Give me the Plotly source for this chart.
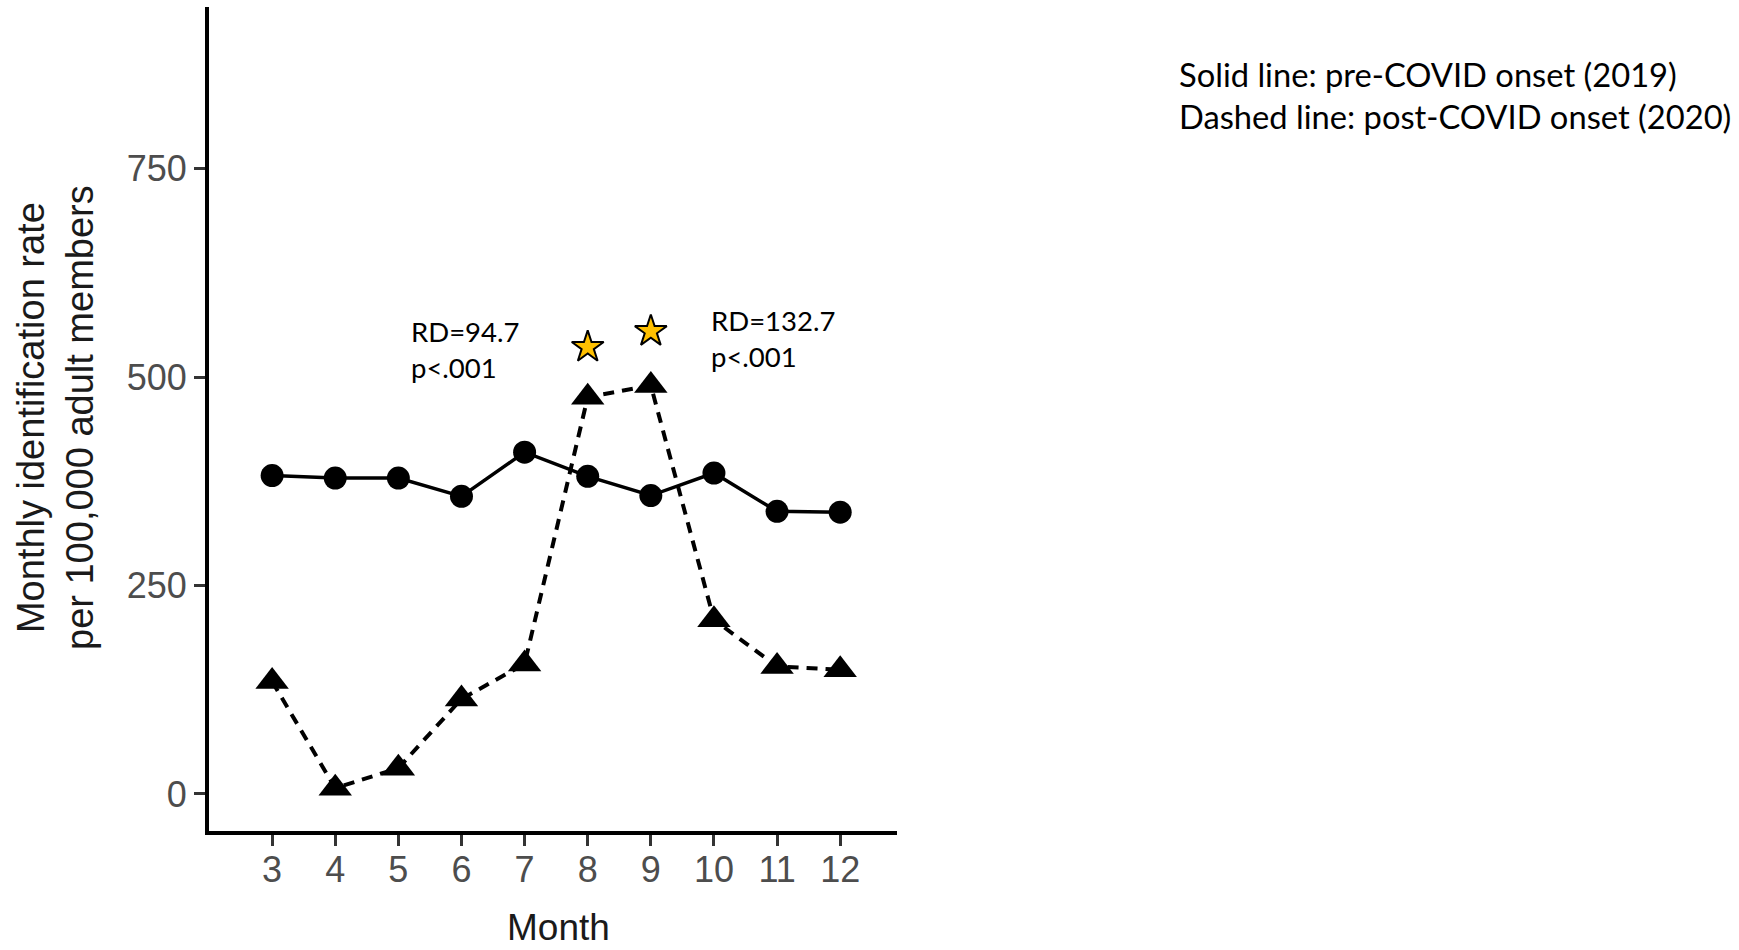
import plotly.graph_objects as go

months = [3, 4, 5, 6, 7, 8, 9, 10, 11, 12]
rate_2019 = [382, 379, 379, 357, 410, 381, 358, 385, 339, 338]
rate_2020 = [135, 7, 31, 114, 156, 476, 490, 209, 153, 149]
star_months = [8, 9]
star_values = [536, 555]
y_ticks = [0, 250, 500, 750]
x_ticks = months
rd_labels = ["RD=94.7<br>p<.001", "RD=132.7<br>p<.001"]
rd_pos_x = [5.17, 9.92]
rd_pos_y = [533, 546]
legend_lines = ["Solid line: pre-COVID onset (2019)", "Dashed line: post-COVID onset (2020)"]

W, H = 1739, 950
L, R, T, B = 209, 1739 - 897, 7, 950 - 831
pw, ph = W - L - R, H - T - B

fig = go.Figure()
fig.add_trace(go.Scatter(x=months, y=rate_2019, mode="lines",
                         line=dict(color="black", width=3.5), hoverinfo="skip"))
fig.add_trace(go.Scatter(x=months, y=rate_2020, mode="lines",
                         line=dict(color="black", width=4, dash="11px,8px"), hoverinfo="skip"))
fig.add_trace(go.Scatter(x=months, y=rate_2019, mode="markers",
                         marker=dict(symbol="circle", size=23, color="black")))
fig.add_trace(go.Scatter(x=months, y=rate_2020, mode="markers",
                         marker=dict(symbol="triangle-up", size=29, color="black")))
fig.add_trace(go.Scatter(x=star_months, y=star_values, mode="markers",
                         marker=dict(symbol="star", size=24, color="#FFC000",
                                     line=dict(color="black", width=2))))

annotations = []
for txt, ax_, ay_ in zip(rd_labels, rd_pos_x, rd_pos_y):
    annotations.append(dict(x=ax_, y=ay_, xref="x", yref="y", text=txt, showarrow=False,
                            xanchor="left", yanchor="middle", align="left",
                            font=dict(family="Lato", size=27.5, color="black")))

legend_py = [75, 116]
for txt, py in zip(legend_lines, legend_py):
    annotations.append(dict(x=(1177 - L) / pw, y=(H - B - py) / ph, xref="paper", yref="paper",
                            text=txt, showarrow=False, xanchor="left", yanchor="middle",
                            font=dict(family="Lato", size=32.7, color="black")))

# axis titles
annotations.append(dict(x=(558 - L) / pw, y=(H - B - 928) / ph, xref="paper", yref="paper",
                        text="Month", showarrow=False, xanchor="center", yanchor="middle",
                        font=dict(family="Liberation Sans, Arial", size=37, color="#1a1a1a")))
annotations.append(dict(x=(56 - L) / pw, y=(H - B - 418) / ph, xref="paper", yref="paper",
                        text="Monthly identification rate<br>per 100,000 adult members",
                        showarrow=False, xanchor="center", yanchor="middle", textangle=-90,
                        font=dict(family="Liberation Sans, Arial", size=38, color="#1a1a1a")))

fig.update_layout(
    width=W, height=H, margin=dict(l=L, r=R, t=T, b=B),
    paper_bgcolor="white", plot_bgcolor="white", showlegend=False,
    annotations=annotations,
    xaxis=dict(range=[2.0, 12.9], tickmode="array", tickvals=x_ticks,
               ticktext=[str(m) for m in x_ticks], showgrid=False, zeroline=False,
               showline=True, linecolor="black", linewidth=4,
               ticks="outside", ticklen=11, tickwidth=3, tickcolor="#333333",
               ticklabelstandoff=-7,
               tickfont=dict(family="Liberation Sans, Arial", size=36, color="#4d4d4d")),
    yaxis=dict(range=[-44.4, 944], tickmode="array", tickvals=y_ticks,
               showgrid=False, zeroline=False,
               showline=True, linecolor="black", linewidth=4,
               ticks="outside", ticklen=11, tickwidth=3, tickcolor="#333333",
               tickfont=dict(family="Liberation Sans, Arial", size=36, color="#4d4d4d")),
)

fig.write_html("out.html")
